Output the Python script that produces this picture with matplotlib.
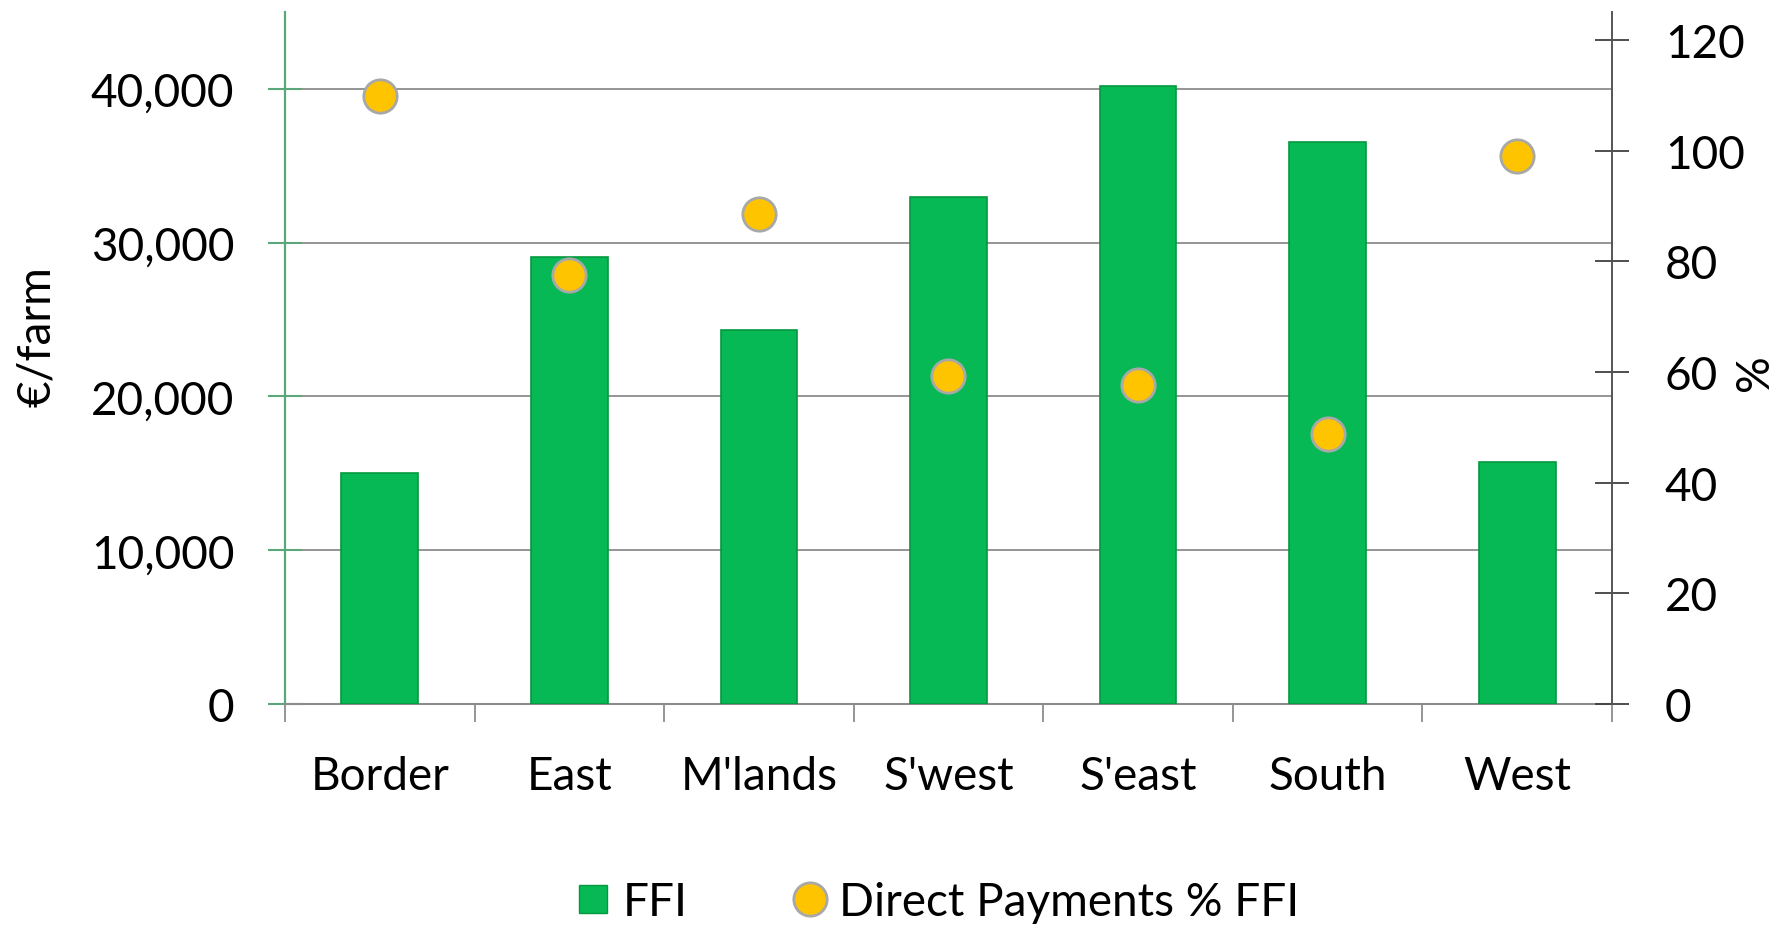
import matplotlib
matplotlib.use("Agg")
import matplotlib.pyplot as plt
from matplotlib.lines import Line2D
from matplotlib.ticker import FuncFormatter, FixedLocator
import numpy as np

regions = ["Border", "East", "M'lands", "S'west", "S'east", "South", "West"]
ffi = [15000, 29050, 24350, 33000, 40200, 36550, 15750]
dp_pct = [109.9, 77.6, 88.6, 59.3, 57.7, 48.9, 99.1]
left_ticks = [0, 10000, 20000, 30000, 40000]
right_ticks = [0, 20, 40, 60, 80, 100, 120]

plt.rcParams['font.family'] = ['Lato', 'DejaVu Sans']
FS = 33
W, H = 1774, 928

fig = plt.figure(figsize=(W/100, H/100), dpi=100)
ax = fig.add_axes([285/W, 1-705/H, (1612-285)/W, (705-13)/H])
ax2 = ax.twinx()

x = np.arange(len(regions))
bar_green = '#06b955'
ax.bar(x, ffi, width=0.405, color=bar_green, edgecolor='#04983f', linewidth=1.2, zorder=3)

ax.set_xlim(-0.5, len(regions) - 0.5)
ax.set_ylim(0, 45000)
ax2.set_ylim(0, 125.1)

ax.yaxis.set_major_locator(FixedLocator(left_ticks))
ax.yaxis.set_major_formatter(FuncFormatter(lambda v, p: f"{int(v):,}"))
ax.grid(axis='y', color='#8c8c8c', linewidth=1.3, zorder=0)
ax.set_axisbelow(True)

ax.set_xticks(x)
ax.set_xticklabels(regions)
ax.set_xticks(np.arange(-0.5, len(regions)), minor=True)
ax.tick_params(axis='x', which='major', length=0, pad=37, labelsize=FS)
ax.tick_params(axis='x', which='minor', length=13, width=1.3, color='#8c8c8c', direction='out')

ax.tick_params(axis='y', which='major', direction='inout', length=24, width=1.5,
               color='#5aa77a', labelsize=FS, pad=24.5)

ax2.yaxis.set_major_locator(FixedLocator(right_ticks))
ax2.tick_params(axis='y', which='major', direction='inout', length=24, width=1.3,
                color='#404040', labelsize=FS, pad=26)

for a in (ax, ax2):
    a.spines['top'].set_visible(False)
ax2.spines['left'].set_visible(False)
ax2.spines['bottom'].set_visible(False)
ax.spines['right'].set_visible(False)
ax.spines['left'].set_color('#5aa77a')
ax.spines['left'].set_linewidth(1.6)
ax.spines['bottom'].set_color('#8c8c8c')
ax.spines['bottom'].set_linewidth(1.5)
ax2.spines['right'].set_color('#555555')
ax2.spines['right'].set_linewidth(1.4)

ax2.scatter(x, dp_pct, s=24**2, color='#ffc400', edgecolors='#a8a8a8', linewidths=2, zorder=5)

fig.text(37/W, 1-337/H, '€/farm', fontsize=FS, rotation=90, ha='center', va='center')
fig.text(1755/W, 1-373/H, '%', fontsize=FS, rotation=90, ha='center', va='center')

handles = [
    Line2D([], [], marker='s', linestyle='none', markersize=20, markerfacecolor=bar_green,
           markeredgecolor='#04983f', label='FFI'),
    Line2D([], [], marker='o', linestyle='none', markersize=24, markerfacecolor='#ffc400',
           markeredgecolor='#a8a8a8', markeredgewidth=2, label='Direct Payments % FFI'),
]
fig.legend(handles=handles, loc='center', bbox_to_anchor=(0.529, 1-903/H), ncol=2,
           frameon=False, fontsize=FS, handlelength=0.7, handletextpad=0.3,
           columnspacing=2.3, borderaxespad=0)

fig.savefig('out.png', dpi=100)
